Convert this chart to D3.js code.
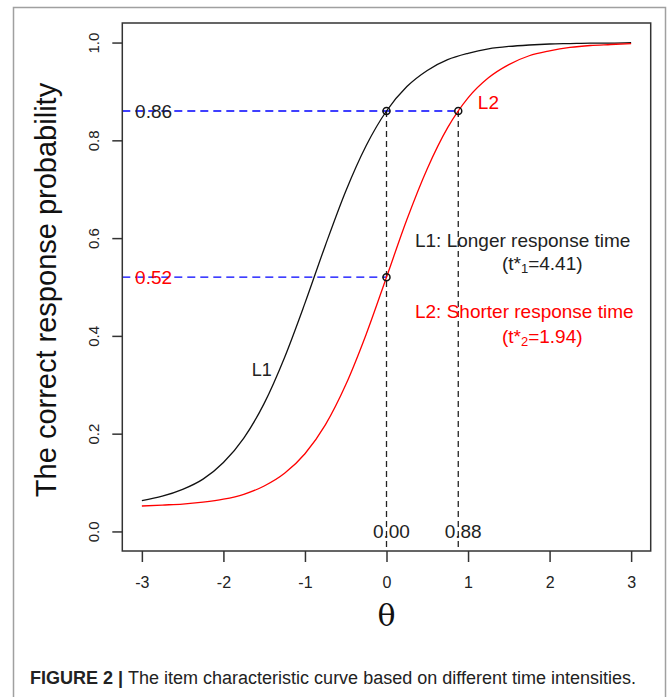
<!DOCTYPE html>
<meta charset="utf-8">
<script src="https://cdnjs.cloudflare.com/ajax/libs/d3/7.8.5/d3.min.js"></script>
<style>
  body { margin: 0; background: #fff; }
  svg text { font-family: "Liberation Sans", Arial, sans-serif; }
</style>
<body>
<script>

// theta grid and the two item characteristic curves
var thetaGrid = [-3, -2.75, -2.5, -2.25, -2, -1.75, -1.5, -1.25, -1, -0.75, -0.5, -0.25,
                 0, 0.25, 0.5, 0.75, 1, 1.25, 1.5, 1.75, 2, 2.25, 2.5, 2.75, 3];
var probL1 = [0.063, 0.072, 0.086, 0.107, 0.141, 0.191, 0.262, 0.356, 0.467, 0.585, 0.696, 0.789,
              0.860, 0.910, 0.943, 0.965, 0.978, 0.987, 0.992, 0.995, 0.997, 0.998, 0.999, 0.999, 1.000];
var probL2 = [0.052, 0.054, 0.056, 0.060, 0.066, 0.076, 0.093, 0.119, 0.159, 0.218, 0.300, 0.403,
              0.520, 0.638, 0.742, 0.826, 0.887, 0.928, 0.955, 0.973, 0.983, 0.990, 0.994, 0.996, 0.998];

var xTicks = [-3, -2, -1, 0, 1, 2, 3];
var yTicks = [0, 0.2, 0.4, 0.6, 0.8, 1.0];

// reference points: theta, probability
var refTheta = [0, 0.88, 0];
var refProb  = [0.86, 0.86, 0.52];

var W = 669, H = 697;

var svg = d3.select("body").append("svg")
    .attr("width", W)
    .attr("height", H);

// figure frame
svg.append("rect")
    .attr("x", 13.5).attr("y", 7.5)
    .attr("width", 652).attr("height", 700)
    .attr("fill", "none")
    .attr("stroke", "#a0a0a0")
    .attr("stroke-width", 1.5);

var x = d3.scaleLinear().domain([-3.24, 3.24]).range([122.3, 650.7]);
var y = d3.scaleLinear().domain([-0.04, 1.04]).range([551, 23]);

// y axis (ticks only, box drawn separately)
var yAxis = svg.append("g")
    .attr("transform", "translate(122.3,0)")
    .call(d3.axisLeft(y).tickValues(yTicks).tickSize(10).tickFormat(d3.format(".1f")));
yAxis.select(".domain").remove();
yAxis.selectAll("line").attr("stroke", "#333").attr("stroke-width", 1.5);
yAxis.selectAll("text")
    .attr("x", 0).attr("y", 0).attr("dy", null)
    .attr("text-anchor", "middle")
    .attr("dominant-baseline", "central")
    .attr("transform", "translate(-29,0) rotate(-90)")
    .style("font-size", "15px")
    .attr("fill", "#222");

var xAxis = svg.append("g")
    .attr("transform", "translate(0,551)")
    .call(d3.axisBottom(x).tickValues(xTicks).tickSize(11).tickFormat(function(d) { return String(d); }));
xAxis.select(".domain").remove();
xAxis.selectAll("line").attr("stroke", "#333").attr("stroke-width", 1.5);
xAxis.selectAll("text")
    .attr("y", 31).attr("dy", null)
    .attr("dominant-baseline", "central")
    .style("font-size", "16px")
    .attr("fill", "#222");

// reference guides
svg.append("line")
    .attr("x1", x(-3.24)).attr("x2", x(refTheta[1]))
    .attr("y1", y(refProb[0])).attr("y2", y(refProb[0]))
    .attr("stroke", "#0000ff").attr("stroke-width", 1.3)
    .attr("stroke-dasharray", "8,5");
svg.append("line")
    .attr("x1", x(-3.24)).attr("x2", x(refTheta[2]))
    .attr("y1", y(refProb[2])).attr("y2", y(refProb[2]))
    .attr("stroke", "#0000ff").attr("stroke-width", 1.3)
    .attr("stroke-dasharray", "8,5");
[refTheta[0], refTheta[1]].forEach(function(t) {
  svg.append("line")
      .attr("x1", x(t)).attr("x2", x(t))
      .attr("y1", y(refProb[0])).attr("y2", y(-0.04))
      .attr("stroke", "#222").attr("stroke-width", 1.3)
      .attr("stroke-dasharray", "6,4");
});

var line = d3.line()
    .x(function(d) { return x(d[0]); })
    .y(function(d) { return y(d[1]); })
    .curve(d3.curveMonotoneX);

svg.append("path")
    .datum(d3.zip(thetaGrid, probL1))
    .attr("d", line)
    .attr("fill", "none")
    .attr("stroke", "#111")
    .attr("stroke-width", 1.3);

svg.append("path")
    .datum(d3.zip(thetaGrid, probL2))
    .attr("d", line)
    .attr("fill", "none")
    .attr("stroke", "#ff0000")
    .attr("stroke-width", 1.3);

svg.selectAll(".pt")
    .data(d3.zip(refTheta, refProb))
    .enter().append("circle")
    .attr("class", "pt")
    .attr("cx", function(d) { return x(d[0]); })
    .attr("cy", function(d) { return y(d[1]); })
    .attr("r", 3.5)
    .attr("fill", "none")
    .attr("stroke", "#111")
    .attr("stroke-width", 1.5);

// plot box
svg.append("rect")
    .attr("x", x(-3.24)).attr("y", y(1.04))
    .attr("width", x(3.24) - x(-3.24))
    .attr("height", y(-0.04) - y(1.04))
    .attr("fill", "none")
    .attr("stroke", "#333")
    .attr("stroke-width", 1.5);

function label(t, p, txt, col, size) {
  return svg.append("text")
      .attr("x", x(t)).attr("y", y(p))
      .attr("text-anchor", "middle")
      .attr("dominant-baseline", "central")
      .style("font-size", size + "px")
      .attr("fill", col)
      .text(txt);
}

label(-2.856, refProb[0], "0.86", "#222", 19);
label(-2.856, refProb[2], "0.52", "#ff0000", 19);
label(refTheta[0] + 0.06, 0, "0.00", "#222", 19);
label(refTheta[1] + 0.06, 0, "0.88", "#222", 19);
label(1.25, 0.878, "L2", "#ff0000", 19);
label(-1.53, 0.33, "L1", "#222", 18);
label(1.67, 0.596, "L1: Longer response time", "#222", 19);
label(1.69, 0.449, "L2: Shorter response time", "#ff0000", 19);

function tLabel(t, p, idx, val, col) {
  var el = svg.append("text")
      .attr("x", x(t)).attr("y", y(p))
      .attr("text-anchor", "middle")
      .attr("dominant-baseline", "central")
      .style("font-size", "19px")
      .attr("fill", col);
  el.append("tspan").text("(t*");
  el.append("tspan").attr("dy", 5).style("font-size", "13px").text(idx);
  el.append("tspan").attr("dy", -5).text("=" + val + ")");
}
tLabel(1.91, 0.549, "1", "4.41", "#222");
tLabel(1.91, 0.40, "2", "1.94", "#ff0000");

// axis titles
svg.append("text")
    .attr("transform", "translate(56,290) rotate(-90)")
    .attr("text-anchor", "middle")
    .style("font-size", "29px")
    .attr("fill", "#111")
    .text("The correct response probability");

svg.append("text")
    .attr("x", x(0)).attr("y", 626)
    .attr("text-anchor", "middle")
    .style("font-family", "'DejaVu Serif', 'Liberation Serif', serif")
    .style("font-size", "30px")
    .attr("fill", "#111")
    .text("θ");

// caption
var cap = svg.append("text")
    .attr("x", 30).attr("y", 684)
    .style("font-size", "18px")
    .attr("fill", "#222");
cap.append("tspan").style("font-weight", "bold").text("FIGURE 2 | ");
cap.append("tspan").text("The item characteristic curve based on different time intensities.");

</script>
</body>
